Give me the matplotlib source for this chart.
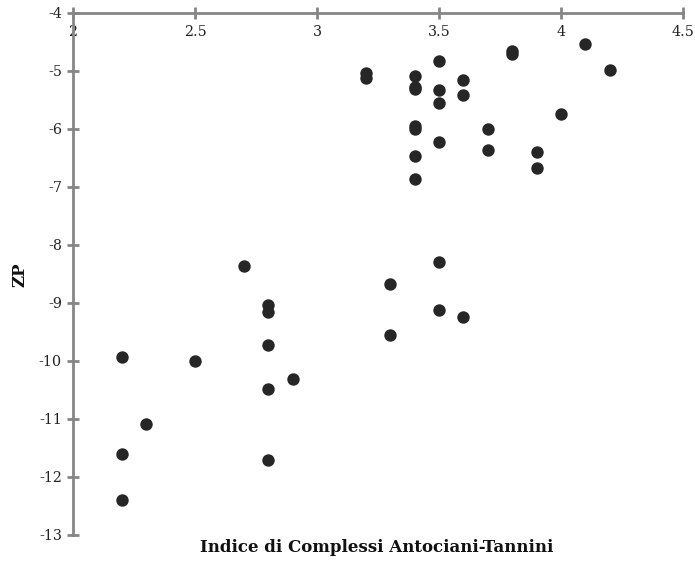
import matplotlib
matplotlib.use("Agg")
import matplotlib.pyplot as plt
from matplotlib.ticker import FuncFormatter

# Data
x_vals = [2.2, 2.2, 2.2, 2.3, 2.5, 2.7,
          2.8, 2.8, 2.8, 2.8, 2.8, 2.9,
          3.2, 3.2, 3.3, 3.3,
          3.4, 3.4, 3.4, 3.4, 3.4, 3.4, 3.4,
          3.5, 3.5, 3.5, 3.5, 3.5, 3.5,
          3.6, 3.6, 3.6, 3.7, 3.7, 3.8, 3.8,
          3.9, 3.9, 4.0, 4.1, 4.2]
zp_vals = [-9.93, -11.6, -12.4, -11.09, -10.0, -8.36,
           -9.03, -9.16, -9.73, -10.49, -11.71, -10.31,
           -5.03, -5.12, -8.67, -9.56,
           -5.09, -5.27, -5.31, -5.95, -6.0, -6.46, -6.87,
           -4.83, -5.32, -5.56, -6.22, -8.29, -9.12,
           -5.16, -5.41, -9.24, -6.0, -6.37, -4.66, -4.71,
           -6.39, -6.68, -5.74, -4.54, -4.98]
xticks = [2, 2.5, 3, 3.5, 4, 4.5]
yticks = [-13, -12, -11, -10, -9, -8, -7, -6, -5, -4]
x_label = "Indice di Complessi Antociani-Tannini"
y_label = "ZP"

fig = plt.figure(figsize=(6.95, 5.61), dpi=100)
ax = fig.add_axes([73/695, 1-535/561, (683-73)/695, (535-13)/561])

ax.scatter(x_vals, zp_vals, s=80, color="#262626", zorder=3, linewidths=0)

ax.set_xlim(2, 4.5)
ax.set_ylim(-13, -4)
ax.set_xticks(xticks)
ax.set_yticks(yticks)
ax.xaxis.set_major_formatter(FuncFormatter(lambda v, p: "%g" % v))
ax.yaxis.set_major_formatter(FuncFormatter(lambda v, p: "%g" % v))

axis_color = "#868686"
ax.spines['top'].set_visible(False)
ax.spines['right'].set_visible(False)
ax.spines['bottom'].set_position(('data', -4))
for s in ('bottom', 'left'):
    ax.spines[s].set_color(axis_color)
    ax.spines[s].set_linewidth(2)
    ax.spines[s].set_zorder(4)

ax.tick_params(axis='both', direction='inout', length=8, width=2, color=axis_color,
               labelcolor="#222222")
ax.tick_params(axis='x', pad=5)
ax.tick_params(axis='y', pad=4)
for lbl in ax.get_xticklabels() + ax.get_yticklabels():
    lbl.set_fontfamily('DejaVu Serif')
    lbl.set_fontsize(10.3)

fig.text(377/695, 1-548/561, x_label, ha='center', va='center',
         fontsize=12, fontweight='bold', family='DejaVu Serif', color="#111111")
fig.text(20/695, 1-275/561, y_label, ha='center', va='center', rotation=90,
         fontsize=12, fontweight='bold', family='DejaVu Serif', color="#111111")

fig.savefig("out.png", dpi=100)
